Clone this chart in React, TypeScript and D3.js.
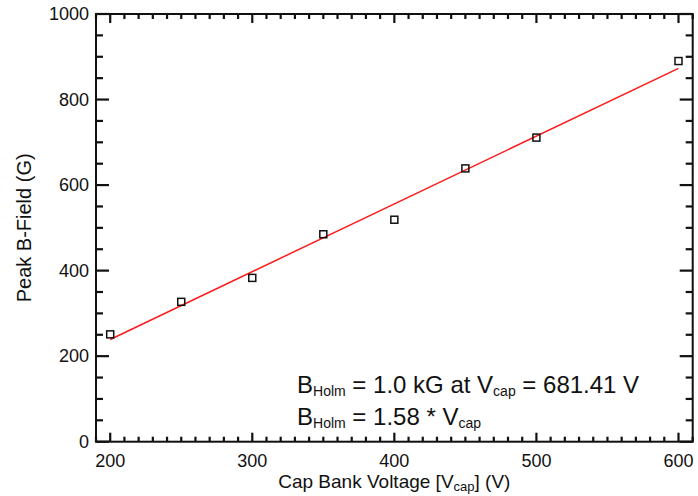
import React, { useEffect, useRef } from 'react';
import * as d3 from 'd3';

// measured cap bank voltage (V) vs peak field (G)
const voltages = [200, 250, 300, 350, 400, 450, 500, 600];
const peakField = [251, 327, 383, 485, 519, 639, 711, 890];

// linear fit drawn over the data
const fitVoltages = [200, 600];
const fitField = [239, 873];

const xMajorTicks = [200, 300, 400, 500, 600];
const yMajorTicks = [0, 200, 400, 600, 800, 1000];

const FONT = '"Liberation Sans", Arial, Helvetica, sans-serif';

const App = () => {
    const svgRef = useRef<SVGSVGElement>(null);

    useEffect(() => {
        const svg = d3.select(svgRef.current);
        svg.selectAll('*').remove();

        const width = 698;
        const height = 496;
        const margin = { top: 14, right: 5.3, bottom: 54.3, left: 96 };
        const innerW = width - margin.left - margin.right;
        const innerH = height - margin.top - margin.bottom;

        const x = d3.scaleLinear().domain([190, 610]).range([0, innerW]);
        const y = d3.scaleLinear().domain([0, 1000]).range([innerH, 0]);

        const g = svg.append('g').attr('transform', `translate(${margin.left},${margin.top})`);

        const xMinor = d3.range(190, 611, 10).filter(v => v % 100 !== 0);
        const yMinor = d3.range(0, 1001, 50).filter(v => v % 200 !== 0);

        const xMajorLen = 9, xMinorLen = 5, yMajorLen = 13, yMinorLen = 7;

        // inward ticks on all four sides, drawn as thin rects
        const xTicks = [
            ...xMajorTicks.map(v => ({ v, len: xMajorLen })),
            ...xMinor.map(v => ({ v, len: xMinorLen })),
        ];
        const yTicks = [
            ...yMajorTicks.map(v => ({ v, len: yMajorLen })),
            ...yMinor.map(v => ({ v, len: yMinorLen })),
        ];
        const tw = 2.2;
        const tg = g.append('g').attr('fill', '#111');
        tg.selectAll('.xb').data(xTicks).enter().append('rect')
            .attr('x', d => x(d.v) - tw / 2).attr('y', d => innerH - d.len)
            .attr('width', tw).attr('height', d => d.len);
        tg.selectAll('.xt').data(xTicks).enter().append('rect')
            .attr('x', d => x(d.v) - tw / 2).attr('y', 0)
            .attr('width', tw).attr('height', d => d.len);
        tg.selectAll('.yl').data(yTicks).enter().append('rect')
            .attr('x', 0).attr('y', d => y(d.v) - tw / 2)
            .attr('width', d => d.len).attr('height', tw);
        tg.selectAll('.yr').data(yTicks).enter().append('rect')
            .attr('x', d => innerW - d.len).attr('y', d => y(d.v) - tw / 2)
            .attr('width', d => d.len).attr('height', tw);

        // tick labels
        g.append('g')
            .selectAll('text')
            .data(xMajorTicks)
            .enter()
            .append('text')
            .attr('x', d => x(d))
            .attr('y', innerH + 25)
            .attr('text-anchor', 'middle')
            .attr('font-family', FONT)
            .attr('font-size', 18)
            .attr('fill', '#111')
            .text(d => d3.format('d')(d));

        g.append('g')
            .selectAll('text')
            .data(yMajorTicks)
            .enter()
            .append('text')
            .attr('x', -7)
            .attr('y', d => y(d))
            .attr('dy', '0.35em')
            .attr('text-anchor', 'end')
            .attr('font-family', FONT)
            .attr('font-size', 18)
            .attr('fill', '#111')
            .text(d => d3.format('d')(d));

        // frame
        g.append('rect')
            .attr('width', innerW)
            .attr('height', innerH)
            .attr('fill', 'none')
            .attr('stroke', '#111')
            .attr('stroke-width', 2);

        // fit line
        const fit = fitVoltages.map((v, i) => [v, fitField[i]] as [number, number]);
        g.append('path')
            .datum(fit)
            .attr('d', d3.line<[number, number]>().x(d => x(d[0])).y(d => y(d[1])))
            .attr('fill', 'none')
            .attr('stroke', '#ff1a1a')
            .attr('stroke-width', 1.5);

        // data points
        const sq = 7;
        g.selectAll('.pt')
            .data(voltages.map((v, i) => ({ v, b: peakField[i] })))
            .enter()
            .append('rect')
            .attr('class', 'pt')
            .attr('x', d => x(d.v) - sq / 2)
            .attr('y', d => y(d.b) - sq / 2)
            .attr('width', sq)
            .attr('height', sq)
            .attr('fill', 'none')
            .attr('stroke', '#111')
            .attr('stroke-width', 1.5);

        // axis titles
        const xt = svg.append('text')
            .attr('x', margin.left + innerW / 2)
            .attr('y', 488)
            .attr('text-anchor', 'middle')
            .attr('font-family', FONT)
            .attr('font-size', 19)
            .attr('fill', '#111');
        xt.append('tspan').text('Cap Bank Voltage [V');
        xt.append('tspan').attr('font-size', 13).attr('dy', 3).text('cap');
        xt.append('tspan').attr('dy', -3).text('] (V)');

        svg.append('text')
            .attr('transform', `translate(31,${margin.top + innerH / 2}) rotate(-90)`)
            .attr('text-anchor', 'middle')
            .attr('font-family', FONT)
            .attr('font-size', 20)
            .attr('fill', '#111')
            .text('Peak B-Field (G)');

        // annotations
        const a1 = svg.append('text')
            .attr('x', 297)
            .attr('y', 393)
            .attr('font-family', FONT)
            .attr('font-size', 24)
            .attr('fill', '#111');
        a1.append('tspan').text('B');
        a1.append('tspan').attr('font-size', 14).attr('dy', 3).text('Holm');
        a1.append('tspan').attr('dy', -3).text(' = 1.0 kG at V');
        a1.append('tspan').attr('font-size', 14).attr('dy', 3).text('cap');
        a1.append('tspan').attr('dy', -3).text(' = 681.41 V');

        const a2 = svg.append('text')
            .attr('x', 297)
            .attr('y', 425)
            .attr('font-family', FONT)
            .attr('font-size', 24)
            .attr('fill', '#111');
        a2.append('tspan').text('B');
        a2.append('tspan').attr('font-size', 14).attr('dy', 3).text('Holm');
        a2.append('tspan').attr('dy', -3).text(' = 1.58 * V');
        a2.append('tspan').attr('font-size', 14).attr('dy', 3).text('cap');
    }, []);

    return (
        <svg
            ref={svgRef}
            width={698}
            height={496}
            style={{ position: 'absolute', left: 0, top: 0, background: '#fff' }}
        />
    );
};

export default App;
